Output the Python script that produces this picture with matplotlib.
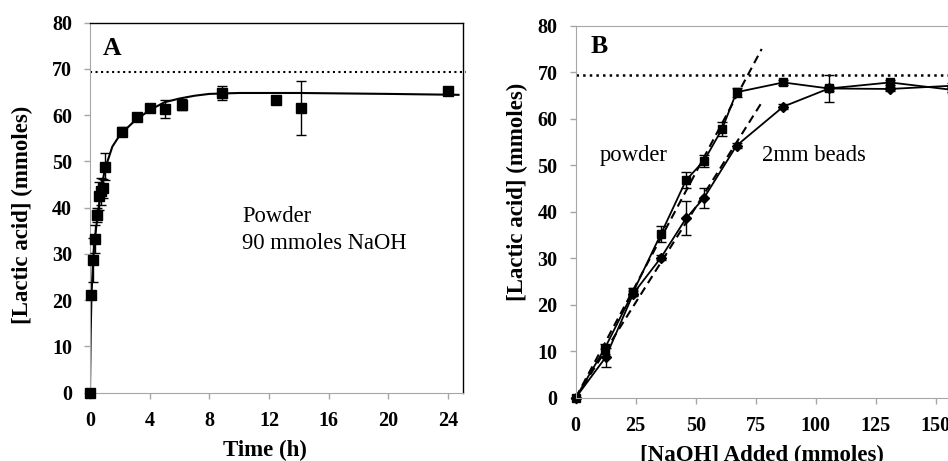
import matplotlib
matplotlib.use("Agg")
import matplotlib.pyplot as plt

plt.rcParams["font.family"] = ["Liberation Serif", "DejaVu Serif"]

# Panel A: lactic acid vs time (powder, 90 mmoles NaOH)
time_h = [0, 0.1, 0.22, 0.33, 0.5, 0.63, 0.75, 0.88, 1.0, 2.17, 3.17, 4.0, 5.0, 6.17, 8.83, 12.5, 14.17, 24]
lactic_a = [0, 21.2, 28.7, 33.2, 38.4, 42.5, 43.5, 44.2, 48.9, 56.4, 59.6, 61.5, 61.3, 62.3, 64.8, 63.2, 61.6, 65.2]
err_a = [0, 0.5, 4.7, 3.0, 1.5, 3.0, 3.0, 2.0, 3.0, 1.0, 0.8, 0.5, 2.0, 1.2, 1.5, 0.5, 5.8, 0.5]

# fitted curve
fit_t = [0, 0.05, 0.1, 0.2, 0.3, 0.5, 0.75, 1.0, 1.5, 2, 3, 4, 5, 6, 7, 8, 10, 14, 20, 24.7]
fit_y = [0, 13, 21, 28, 32.5, 38, 44, 48.3, 53.2, 55.7, 58.8, 61.1, 62.8, 63.6, 64.2, 64.6, 64.8, 64.8, 64.6, 64.4]

# Panel B: lactic acid vs NaOH added
naoh_powder = [0, 12, 24, 35.5, 46, 53.5, 61, 67, 86.5, 105.5, 131, 157]
lactic_powder = [0, 10.5, 22.8, 35.2, 46.8, 51.0, 57.8, 65.7, 67.8, 66.5, 67.8, 66.2]
err_powder = [0, 1.0, 0.8, 1.7, 1.8, 1.3, 1.5, 1.0, 0.5, 0.5, 0.5, 0.5]

naoh_beads = [0, 12.5, 24, 35.5, 46, 53.5, 67, 86.5, 105.5, 131, 157]
lactic_beads = [0, 8.7, 22.4, 30.1, 38.6, 43.0, 54.2, 62.6, 66.5, 66.4, 67.1]
err_beads = [0, 2.0, 0.5, 0.5, 3.7, 2.2, 0.5, 0.5, 3.0, 0.5, 0.5]

trend_x = [0, 77.5]
trend_powder = [0, 75.0]
trend_beads = [0, 63.5]

theoretical = 69.3

GRAY = "#a6a6a6"
LABEL_SIZE = 16.5
NOTE_SIZE = 16.3

fig = plt.figure(figsize=(9.48, 4.61), dpi=100)
ax_a = fig.add_axes([0.0949, 0.1482, 0.3935, 0.8026])
ax_b = fig.add_axes([0.6073, 0.1373, 0.4430, 0.8069])

# ---- panel A ----
ax_a.plot(fit_t, fit_y, color="black", lw=1.5, zorder=2)
ax_a.errorbar(time_h, lactic_a, yerr=err_a, fmt="s", color="black", ms=7.5,
              elinewidth=1, capsize=3.5, capthick=1, zorder=3, clip_on=False)
ax_a.plot([0, 25.2], [theoretical, theoretical], ls=":", color="black", lw=1.5, clip_on=False)
ax_a.set_xlim(0, 25)
ax_a.set_ylim(0, 80)
ax_a.set_xticks(range(0, 25, 4))
ax_a.set_yticks(range(0, 81, 10))
ax_a.spines["left"].set_color(GRAY)
ax_a.spines["bottom"].set_color(GRAY)
ax_a.spines["top"].set_linewidth(1)
ax_a.spines["right"].set_linewidth(1)
ax_a.text(1.5, 74.5, "A", fontsize=18.5, fontweight="bold", ha="center", va="center")
ax_a.text(10.2, 38.0, "Powder", fontsize=NOTE_SIZE, ha="left", va="center")
ax_a.text(10.2, 32.3, "90 mmoles NaOH", fontsize=NOTE_SIZE, ha="left", va="center")
ax_a.set_xlabel("Time (h)", fontsize=LABEL_SIZE, fontweight="bold", va="center")
ax_a.xaxis.set_label_coords(0.469, -0.155)
ax_a.set_ylabel("[Lactic acid] (mmoles)", fontsize=LABEL_SIZE, fontweight="bold", va="center")
ax_a.yaxis.set_label_coords(-0.182, 0.48)

# ---- panel B ----
ax_b.plot(trend_x, trend_powder, ls="--", color="black", lw=1.5, dashes=(4, 2.5))
ax_b.plot(trend_x, trend_beads, ls="--", color="black", lw=1.5, dashes=(4, 2.5))
ax_b.errorbar(naoh_powder, lactic_powder, yerr=err_powder, fmt="-s", color="black", ms=6,
              lw=1.3, elinewidth=1, capsize=3.5, capthick=1, clip_on=False)
ax_b.errorbar(naoh_beads, lactic_beads, yerr=err_beads, fmt="-D", color="black", ms=5,
              lw=1.3, elinewidth=1, capsize=3.5, capthick=1, clip_on=False)
ax_b.axhline(theoretical, ls=":", color="black", lw=1.8)
ax_b.set_xlim(0, 175)
ax_b.set_ylim(0, 80)
ax_b.set_xticks(range(0, 176, 25))
ax_b.set_yticks(range(0, 81, 10))
for side in ["left", "bottom", "top", "right"]:
    ax_b.spines[side].set_color(GRAY)
ax_b.text(9.7, 75.5, "B", fontsize=18.5, fontweight="bold", ha="center", va="center")
ax_b.text(24.3, 52.0, "powder", fontsize=NOTE_SIZE, ha="center", va="center")
ax_b.text(99.2, 52.0, "2mm beads", fontsize=NOTE_SIZE, ha="center", va="center")
ax_b.set_xlabel("[NaOH] Added (mmoles)", fontsize=LABEL_SIZE, fontweight="bold", va="center")
ax_b.xaxis.set_label_coords(0.4436, -0.155)
ax_b.set_ylabel("[Lactic acid] (mmoles)", fontsize=LABEL_SIZE, fontweight="bold", va="center")
ax_b.yaxis.set_label_coords(-0.139, 0.553)

for ax in (ax_a, ax_b):
    ax.tick_params(axis="both", direction="out", length=4.5, width=1, color=GRAY,
                   labelsize=14.5, pad=8.5)
    for lab in ax.get_xticklabels() + ax.get_yticklabels():
        lab.set_fontweight("bold")

fig.savefig("out.png", dpi=100)
